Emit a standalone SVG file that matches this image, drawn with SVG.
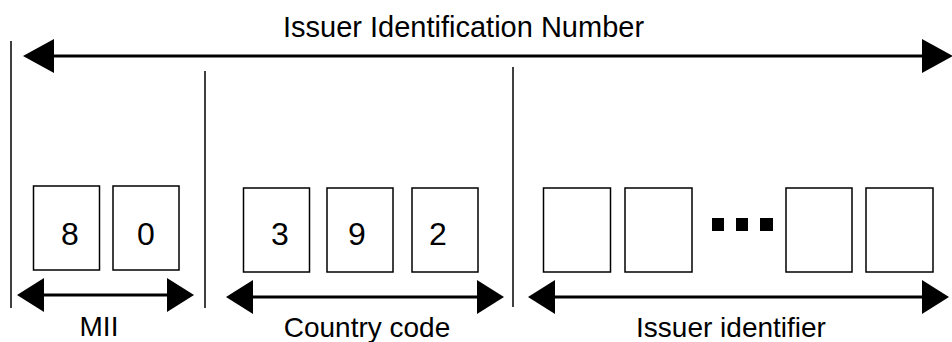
<svg xmlns="http://www.w3.org/2000/svg" width="952" height="342" viewBox="0 0 952 342">
<style>
  .t { font-family: "Liberation Sans", Arial, sans-serif; font-size: 28px; fill: #000; }
  .d { font-family: "Liberation Sans", Arial, sans-serif; font-size: 32px; fill: #000; text-anchor: middle; }
  .box { fill: #fff; stroke: #000; stroke-width: 1.5; }
  .sep { stroke: #000; stroke-width: 1.5; fill: none; }
  .arr { stroke: #000; stroke-width: 3; fill: none; }
</style>
<defs>
  <marker id="big" markerUnits="userSpaceOnUse" viewBox="0 0 31 34" refX="0" refY="17" markerWidth="31" markerHeight="34" orient="auto-start-reverse">
    <path d="M0,0 L31,17 L0,34 z" fill="#000"/>
  </marker>
  <marker id="small" markerUnits="userSpaceOnUse" viewBox="0 0 27 34" refX="0" refY="17" markerWidth="27" markerHeight="34" orient="auto-start-reverse">
    <path d="M0,0 L27,17 L0,34 z" fill="#000"/>
  </marker>
</defs>
<rect width="952" height="342" fill="#fff"/>

<g id="title">
  <text class="t" x="283" y="37" style="font-size:29px">Issuer Identification Number</text>
</g>

<g id="separators">
  <line class="sep" x1="11" y1="41" x2="11" y2="308"/>
  <line class="sep" x1="205" y1="71" x2="205" y2="308"/>
  <line class="sep" x1="513" y1="67" x2="513" y2="307"/>
</g>

<g id="mii">
  <rect class="box" x="33.5" y="186" width="66" height="84"/>
  <text class="d" x="70" y="245">8</text>
  <rect class="box" x="113" y="186" width="66" height="84"/>
  <text class="d" x="146" y="245">0</text>
  <text class="t" x="99" y="336" text-anchor="middle">MII</text>
</g>

<g id="country">
  <rect class="box" x="243.5" y="188" width="66" height="84"/>
  <text class="d" x="280" y="245">3</text>
  <rect class="box" x="327" y="188" width="66" height="84"/>
  <text class="d" x="357" y="245">9</text>
  <rect class="box" x="412" y="188" width="66" height="84"/>
  <text class="d" x="438" y="245">2</text>
  <text class="t" x="367" y="337" text-anchor="middle">Country code</text>
</g>

<g id="issuer">
  <rect class="box" x="543.5" y="188" width="67" height="84"/>
  <rect class="box" x="625" y="188" width="67" height="84"/>
  <rect x="712" y="218" width="12" height="13" fill="#000"/>
  <rect x="736" y="218" width="12" height="13" fill="#000"/>
  <rect x="760" y="218" width="13" height="13" fill="#000"/>
  <rect class="box" x="786" y="188" width="66" height="84"/>
  <rect class="box" x="866" y="188" width="67" height="84"/>
  <text class="t" x="731" y="337" text-anchor="middle">Issuer identifier</text>
</g>

<g id="connectors">
  <line class="arr" x1="54" y1="56" x2="922" y2="56" marker-start="url(#big)" marker-end="url(#big)"/>
  <line class="arr" x1="44" y1="295" x2="167" y2="295" marker-start="url(#small)" marker-end="url(#small)"/>
  <line class="arr" x1="253" y1="297" x2="477" y2="297" marker-start="url(#small)" marker-end="url(#small)"/>
  <line class="arr" x1="555" y1="297" x2="922" y2="297" marker-start="url(#small)" marker-end="url(#small)"/>
</g>
</svg>
